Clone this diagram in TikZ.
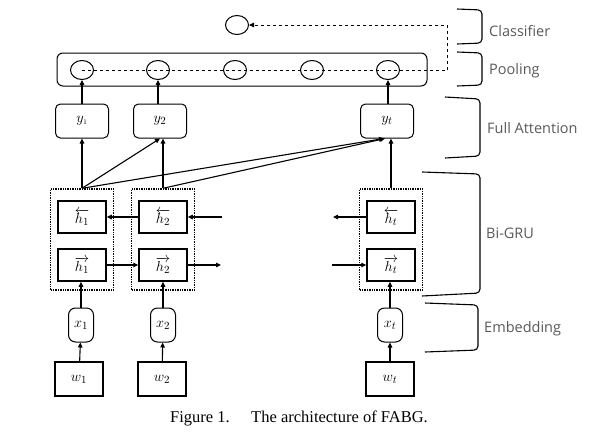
\documentclass[tikz,border=0pt]{standalone}
\usepackage{fontspec}
\setmainfont{Liberation Serif}
\newfontfamily\labfont{Open Sans}
\usetikzlibrary{arrows.meta,shapes.geometric}
\begin{document}
\begin{tikzpicture}[x=1pt,y=-1pt,
  >={Triangle[length=5pt,width=4.5pt]},
  mfont/.style={font=\fontsize{15}{17}\selectfont},
  circ/.style={draw,line width=1pt,ellipse,minimum width=23pt,minimum height=19pt,inner sep=0pt},
  ybox/.style={draw,line width=1pt,rounded corners=5pt,minimum width=53pt,minimum height=34pt,inner sep=0pt,mfont},
  hbox/.style={draw,line width=1.5pt,minimum width=48pt,minimum height=32pt,inner sep=0pt,mfont},
  gbox/.style={draw,line width=1.4pt,densely dotted,minimum width=63pt,minimum height=101pt,inner sep=0pt},
  xbox/.style={draw,line width=1pt,rounded corners=7pt,minimum width=25pt,minimum height=34pt,inner sep=0pt,mfont},
  wbox/.style={draw,line width=1.5pt,minimum width=48pt,minimum height=34pt,inner sep=0pt,mfont},
  conn/.style={line width=1.1pt,->},
  brk/.style={line width=1.1pt,rounded corners=4pt},
  lab/.style={anchor=west,text=black!65,font=\labfont\fontsize{14.5}{16}\selectfont,inner sep=0pt},
  pool/.style={draw,line width=1pt,rounded corners=6pt}
]
\useasboundingbox (0,0) rectangle (601,442);
% pooling frame
\draw[pool] (57,53) rectangle (427,86);
% classifier
\node[circ] (cls) at (237,25) {};
\node[circ] (p1) at (82,70) {};
\node[circ] (p2) at (158,70) {};
\node[circ] (p3) at (235,70) {};
\node[circ] (p4) at (312,70) {};
\node[circ] (p5) at (388,70) {};
\coordinate (pr) at (447,70);
\coordinate (pu) at (447,25);
\draw[line width=1pt,dashed] (p1.center) -- (pr);
\draw[line width=1pt,dashed,->] (pr) -- (pu) -- (cls);
% y nodes
\node[ybox] (y1) at (82,121) {$y_{\scriptscriptstyle 1}$};
\node[ybox] (y2) at (160,121) {$y_2$};
\node[ybox] (yt) at (387,121) {$y_t$};
\draw[conn] (y1.north) -- (p1.south);
\draw[conn] (y2.north -| p2) -- (p2.south);
\draw[conn] (yt.north -| p5) -- (p5.south);
% Bi-GRU
\node[gbox] (g1) at (82,239.5) {};
\node[gbox] (g2) at (163,239.5) {};
\node[gbox] (gt) at (391,239.5) {};
\node[hbox] (b1) at (82,217) {$\overleftarrow{h_1}$};
\node[hbox] (f1) at (82,265) {$\overrightarrow{h_1}$};
\node[hbox] (b2) at (163,217) {$\overleftarrow{h_2}$};
\node[hbox] (f2) at (163,265) {$\overrightarrow{h_2}$};
\node[hbox] (bt) at (391,217) {$\overleftarrow{h_t}$};
\node[hbox] (ft) at (391,265) {$\overrightarrow{h_t}$};
\coordinate (b2in) at (222,217);
\coordinate (f2out) at (221,265);
\coordinate (btout) at (333,217);
\coordinate (ftin) at (332,265);
\draw[conn] (b2) -- (b1);
\draw[conn] (b2in) -- (b2);
\draw[conn] (bt) -- (btout);
\draw[conn] (f1) -- (f2);
\draw[conn] (f2) -- (f2out);
\draw[conn] (ftin) -- (ft);
% attention
\draw[conn] (g1.north) -- (y1.south);
\draw[conn] (g1.north) -- (y2.south);
\draw[conn] (g1.north) -- ([xshift=-3pt]yt.south);
\draw[conn] (g2.north) -- (y2.south -| g2.north);
\draw[conn] (g2.north) -- ([xshift=-2pt]yt.south);
\draw[conn] (gt.north) -- (yt.south -| gt.north);
% embedding
\node[xbox] (x1) at (81,325) {$x_1$};
\node[xbox] (x2) at (163,325) {$x_2$};
\node[xbox] (xt) at (390,325) {$x_t$};
\node[wbox] (w1) at (79,379) {$w_1$};
\node[wbox] (w2) at (162,379) {$w_2$};
\node[wbox] (wt) at (390,379) {$w_t$};
\draw[conn] (w1) -- (x1);
\draw[conn] (w2) -- (x2);
\draw[conn] (wt) -- (xt);
\draw[conn] (x1.north) -- (f1.south -| x1.north);
\draw[conn] (x2.north) -- (f2.south -| x2.north);
\draw[conn] (xt.north) -- (ft.south -| xt.north);
% brackets
\draw[brk] (457,9) -- (482,10) -- (482,43) -- (457,44);
\draw[brk] (457,52) -- (482,53) -- (482,85) -- (457,86);
\draw[brk] (445,97) -- (480,99) -- (480,156) -- (445,158);
\draw[brk] (422,172) -- (480,174) -- (480,293) -- (422,296);
\draw[brk] (425,303) -- (478,305) -- (478,350) -- (425,352);
\node[lab] (lc) at (489,31) {Classifier};
\node[lab] (lp) at (489,71) {Pooling};
\node[lab] (lf) at (487,128) {Full Attention};
\node[lab] (lb) at (486,233) {Bi-GRU};
\node[lab] (le) at (484,329) {Embedding};
% caption
\node[font=\fontsize{16.5}{19}\selectfont,anchor=west,inner sep=0pt] (cap) at (170,418) {Figure 1.\hspace{1.3em}The architecture of FABG.};
\end{tikzpicture}
\end{document}
